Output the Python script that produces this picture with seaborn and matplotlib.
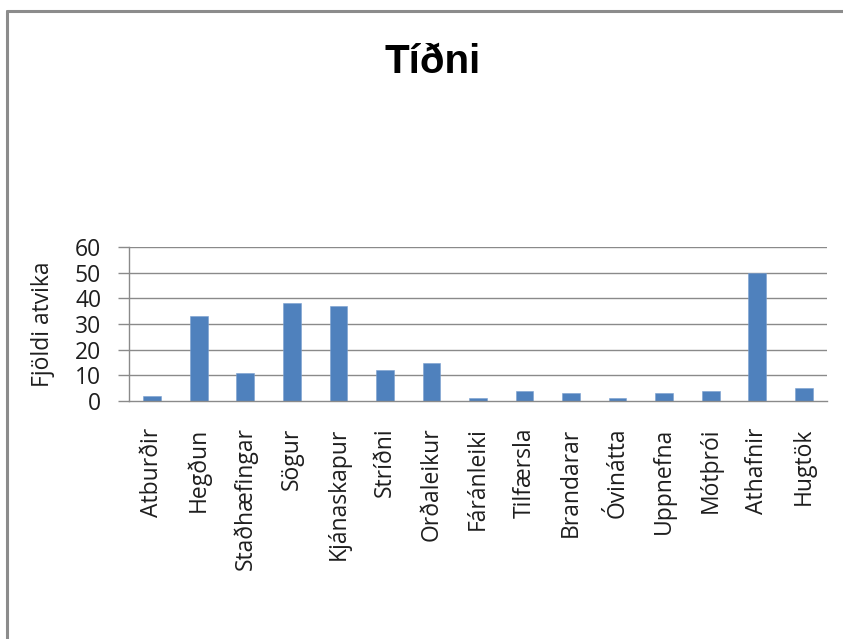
import matplotlib
matplotlib.use("Agg")
import matplotlib.pyplot as plt
from matplotlib.lines import Line2D
from matplotlib.ticker import FixedLocator
import seaborn as sns
import pandas as pd

categories = ["Atburðir", "Hegðun", "Staðhæfingar", "Sögur", "Kjánaskapur", "Stríðni",
              "Orðaleikur", "Fáránleiki", "Tilfærsla", "Brandarar", "Óvinátta",
              "Uppnefna", "Mótþrói", "Athafnir", "Hugtök"]
values = [2, 33, 11, 38, 37, 12, 15, 1, 4, 3, 1, 3, 4, 50, 5]
yticks = [0, 10, 20, 30, 40, 50, 60]
title = "Tíðni"
ylabel = "Fjöldi atvika"

sns.set_theme(style="white")
plt.rcParams['font.family'] = ['Open Sans', 'DejaVu Sans']

df = pd.DataFrame({"cat": categories, "val": values})

fig = plt.figure(figsize=(8.43, 6.39), dpi=100)
W, H = 843, 639
ax = fig.add_axes([129 / W, (H - 401) / H, (827 - 129) / W, (401 - 247) / H])

grid_c = "#8a8a8a"
txt_c = "#1e1e1e"
fs = 16.5
for y in yticks[1:]:
    ax.axhline(y, color=grid_c, lw=1.0, zorder=0)

sns.barplot(data=df, x="cat", y="val", color="#4F81BD", width=0.38,
            saturation=1, ax=ax, zorder=2, edgecolor="#7a9fd0", linewidth=0.4)

ax.set_xlim(-0.5, len(categories) - 0.5)
ax.set_ylim(0, 60)
ax.set_yticks(yticks)
ax.set_yticklabels([str(v) for v in yticks], fontsize=fs, color=txt_c)
ax.set_xticks(range(len(categories)))
ax.set_xticklabels(categories, rotation=90, fontsize=fs, color=txt_c)
ax.xaxis.set_minor_locator(FixedLocator([i - 0.5 for i in range(len(categories) + 1)]))
ax.tick_params(axis="x", which="major", length=0, pad=19)
ax.tick_params(axis="x", which="minor", length=8, width=1, color=grid_c, direction="out")
ax.tick_params(axis="y", length=8, width=1, color=grid_c, direction="out", pad=12, left=True)
ax.set_xlabel("")
ax.set_ylabel(ylabel, fontsize=fs, color=txt_c)
ax.yaxis.label.set_va("center")
ax.yaxis.set_label_coords((43 - 129) / 698, 0.5)

for s in ["top", "right"]:
    ax.spines[s].set_visible(False)
for s in ["left", "bottom"]:
    ax.spines[s].set_color(grid_c)
    ax.spines[s].set_linewidth(1.0)

fig.text(433 / W, 1 - 62 / H, title, ha="center", va="center", fontsize=29,
         fontweight="bold", family=["Liberation Sans", "DejaVu Sans"], color="black")

# chart border (partially visible)
fig.add_artist(Line2D([7 / W, 7 / W], [0, 1 - 11 / H], transform=fig.transFigure,
                      color="#8c8c8c", lw=2.2))
fig.add_artist(Line2D([7 / W, 1.0], [1 - 11 / H, 1 - 11 / H], transform=fig.transFigure,
                      color="#8c8c8c", lw=2.2))

fig.savefig("out.png", dpi=100, facecolor="white")
